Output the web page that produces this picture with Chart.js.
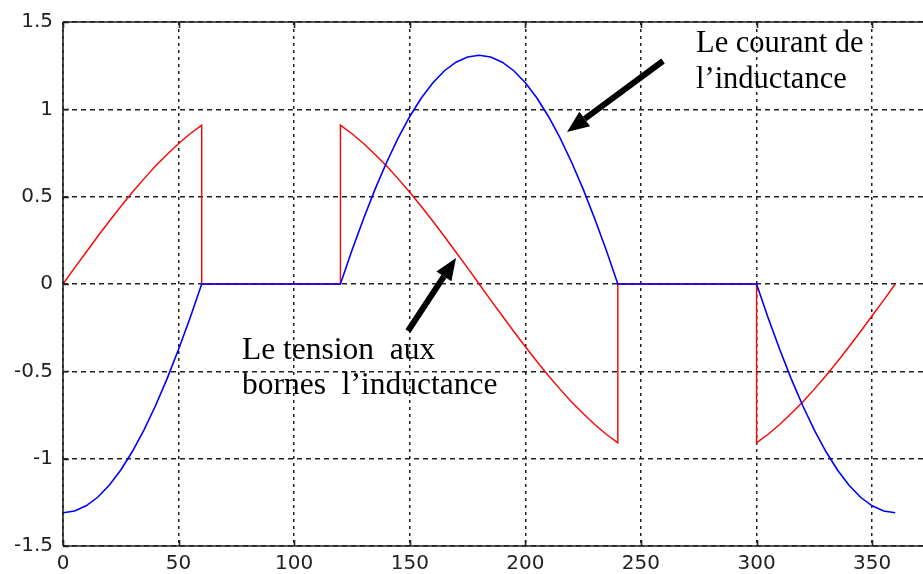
<!DOCTYPE html>
<html>
<head>
<meta charset="utf-8">
<title>Courant et tension de l'inductance</title>
<script src="https://cdn.jsdelivr.net/npm/chart.js@4/dist/chart.umd.min.js"></script>
<style>
  html, body { margin: 0; padding: 0; background: #fff; }
  #wrap { width: 923px; height: 574px; position: relative; }
</style>
</head>
<body>
<div id="wrap"><canvas id="chart"></canvas></div>
<script>
// angle (degrees); repeated angles are the vertical jumps of the voltage
const angles = [
  0, 5, 10, 15, 20, 25, 30, 35, 40, 45, 50, 55, 60,
  60, 120,
  120, 125, 130, 135, 140, 145, 150, 155, 160, 165, 170, 175, 180,
  185, 190, 195, 200, 205, 210, 215, 220, 225, 230, 235, 240,
  240, 300,
  300, 305, 310, 315, 320, 325, 330, 335, 340, 345, 350, 355, 360
];

// tension aux bornes de l'inductance (red)
const tension = [
  0, 0.092, 0.182, 0.272, 0.359, 0.444, 0.525, 0.602, 0.675, 0.742, 0.804, 0.860, 0.909,
  0, 0,
  0.909, 0.860, 0.804, 0.742, 0.675, 0.602, 0.525, 0.444, 0.359, 0.272, 0.182, 0.092, 0,
  -0.092, -0.182, -0.272, -0.359, -0.444, -0.525, -0.602, -0.675, -0.742, -0.804, -0.860, -0.909,
  0, 0,
  -0.909, -0.860, -0.804, -0.742, -0.675, -0.602, -0.525, -0.444, -0.359, -0.272, -0.182, -0.092, 0
];

// courant de l'inductance (blue)
const courant = [
  -1.310, -1.300, -1.270, -1.221, -1.152, -1.065, -0.959, -0.836, -0.697, -0.543, -0.374, -0.193, 0,
  0, 0,
  0, 0.193, 0.374, 0.543, 0.697, 0.836, 0.959, 1.065, 1.152, 1.221, 1.270, 1.300, 1.310,
  1.300, 1.270, 1.221, 1.152, 1.065, 0.959, 0.836, 0.697, 0.543, 0.374, 0.193, 0,
  0, 0,
  0, -0.193, -0.374, -0.543, -0.697, -0.836, -0.959, -1.065, -1.152, -1.221, -1.270, -1.300, -1.310
];

const xTicks = [0, 50, 100, 150, 200, 250, 300, 350];
const yTicks = [-1.5, -1, -0.5, 0, 0.5, 1, 1.5];

const labelCourant = ['Le courant de', 'l\u2019inductance'];
const labelTension = ['Le tension  aux', 'bornes  l\u2019inductance'];

const toPoints = ys => angles.map((a, i) => ({ x: a, y: ys[i] }));
const tickFont = { family: '"DejaVu Sans", Verdana, sans-serif', size: 20 };

// captions sit under the grid, frame and arrows on top of the curves
const decorations = {
  id: 'decorations',
  beforeDraw(chart) {
    const { ctx } = chart;
    ctx.save();
    ctx.fillStyle = '#000';
    ctx.textBaseline = 'alphabetic';
    ctx.font = '30.5px "Liberation Serif", "Times New Roman", serif';
    ctx.fillText(labelCourant[0], 696, 52);
    ctx.fillText(labelCourant[1], 696, 88);
    ctx.font = '31.5px "Liberation Serif", "Times New Roman", serif';
    ctx.fillText(labelTension[0], 242, 359);
    ctx.fillText(labelTension[1], 242, 394);
    ctx.restore();
  },
  afterDatasetsDraw(chart) {
    const { ctx, chartArea: a, scales: { x, y } } = chart;
    ctx.save();
    ctx.strokeStyle = '#222';
    ctx.lineWidth = 1.6;
    ctx.beginPath();
    ctx.moveTo(a.left, a.top); ctx.lineTo(a.right + 5, a.top);
    ctx.moveTo(a.left, a.top); ctx.lineTo(a.left, a.bottom);
    ctx.moveTo(a.left, a.bottom); ctx.lineTo(a.right + 5, a.bottom);
    xTicks.forEach(v => {
      const px = Math.round(x.getPixelForValue(v)) + 0.5;
      ctx.moveTo(px, a.bottom); ctx.lineTo(px, a.bottom - 6);
      ctx.moveTo(px, a.top); ctx.lineTo(px, a.top + 6);
    });
    yTicks.forEach(v => {
      const py = Math.round(y.getPixelForValue(v)) + 0.5;
      ctx.moveTo(a.left, py); ctx.lineTo(a.left + 6, py);
    });
    ctx.stroke();

    arrow(ctx, 663, 61, 567, 132);
    arrow(ctx, 408, 331, 456, 258);
    ctx.restore();
  }
};

function arrow(ctx, x0, y0, x1, y1) {
  const ang = Math.atan2(y1 - y0, x1 - x0);
  const head = 22, half = 9;
  const bx = x1 - head * Math.cos(ang), by = y1 - head * Math.sin(ang);
  ctx.strokeStyle = '#000';
  ctx.fillStyle = '#000';
  ctx.lineWidth = 6;
  ctx.beginPath();
  ctx.moveTo(x0, y0);
  ctx.lineTo(bx, by);
  ctx.stroke();
  ctx.beginPath();
  ctx.moveTo(x1, y1);
  ctx.lineTo(bx + half * Math.sin(ang), by - half * Math.cos(ang));
  ctx.lineTo(bx - half * Math.sin(ang), by + half * Math.cos(ang));
  ctx.closePath();
  ctx.fill();
}

new Chart(document.getElementById('chart'), {
  type: 'line',
  data: {
    datasets: [
      {
        label: 'courant',
        data: toPoints(courant),
        borderColor: '#0000ff',
        borderWidth: 1.6,
        pointRadius: 0,
        tension: 0,
        order: 0
      },
      {
        label: 'tension',
        data: toPoints(tension),
        borderColor: '#ff0000',
        borderWidth: 1.4,
        pointRadius: 0,
        tension: 0,
        order: 1
      }
    ]
  },
  options: {
    responsive: true,
    maintainAspectRatio: false,
    animation: false,
    parsing: false,
    layout: { padding: { top: 18, right: 0, left: 0, bottom: 0 } },
    plugins: { legend: { display: false }, tooltip: { enabled: false } },
    scales: {
      x: {
        type: 'linear',
        min: 0,
        max: 372,
        afterBuildTicks: axis => { axis.ticks = xTicks.map(v => ({ value: v })); },
        afterFit: axis => { axis.height = 28; },
        grid: { color: '#222', lineWidth: 1.5, drawTicks: false },
        border: { display: false, dash: [3, 4] },
        ticks: { padding: 6, color: '#222', font: tickFont, maxRotation: 0 }
      },
      y: {
        type: 'linear',
        min: -1.5,
        max: 1.5,
        afterBuildTicks: axis => { axis.ticks = yTicks.map(v => ({ value: v })); },
        afterFit: axis => { axis.width = 63; },
        grid: { color: '#222', lineWidth: 1.5, drawTicks: false },
        border: { display: false, dash: [5, 4] },
        ticks: { padding: 10, color: '#222', font: tickFont, callback: v => String(v) }
      }
    }
  },
  plugins: [decorations]
});
</script>
</body>
</html>
